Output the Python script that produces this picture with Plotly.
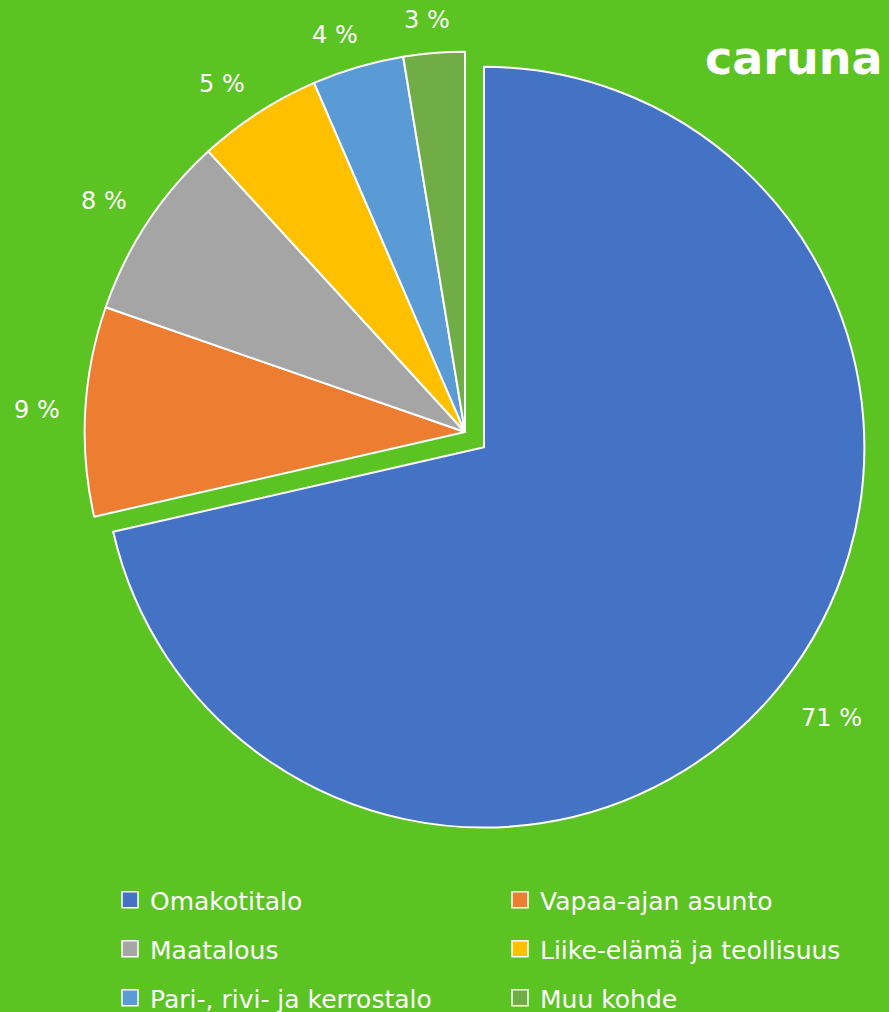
import math
import plotly.graph_objects as go

W, H = 889, 1012

categories = ["Omakotitalo", "Vapaa-ajan asunto", "Maatalous",
              "Liike-elämä ja teollisuus", "Pari-, rivi- ja kerrostalo", "Muu kohde"]
values = [71.5, 8.9, 7.9, 5.3, 3.9, 2.6]
colors = ["#4472C4", "#ED7D31", "#A5A5A5", "#FFC000", "#5B9BD5", "#70AD47"]
pulls = [0.064, 0, 0, 0, 0, 0]

BG = "#5BC322"
FONT = "DejaVu Sans"
dom_x = [0.0678, 0.9783]
dom_y = [0.1732, 0.973]

fig = go.Figure()
fig.add_trace(go.Pie(
    labels=categories, values=values,
    marker=dict(colors=colors, line=dict(color="white", width=2)),
    pull=pulls, sort=False, direction="clockwise", rotation=0,
    textinfo="none", showlegend=False, hoverinfo="skip",
    domain=dict(x=dom_x, y=dom_y),
))

# percentage labels placed outside the slices (Excel-style)
boxW = W * (dom_x[1] - dom_x[0])
boxH = H * (dom_y[1] - dom_y[0])
r = min(boxW, boxH) / (2 + 2 * max(pulls))
cx = W * (dom_x[0] + dom_x[1]) / 2
cy = H * (1 - dom_y[0]) - boxH / 2
total = sum(values)
cw = {"%": 0.95, " ": 0.318}
lab_size = 24
cum = 0.0
annotations = []
for v, p in zip(values, pulls):
    a0 = cum / total * 2 * math.pi
    cum += v
    a1 = cum / total * 2 * math.pi
    mid = (a0 + a1) / 2
    dx, dy = math.sin(mid), -math.cos(mid)
    px = cx + dx * p * r
    py = cy + dy * p * r
    text = f"{round(v / total * 100)} %"
    hw = sum(cw.get(ch, 0.636) for ch in text) * lab_size / 2
    hh = 16 if dy > 0 else 10
    g = 25
    tx = px + dx * (r + g) + hw * math.copysign(1, dx) * min(1, 2.5 * abs(dx))
    ty = py + dy * (r + g) + hh * math.copysign(1, dy) * min(1, 2.5 * abs(dy)) + 2
    annotations.append(dict(
        x=tx / W, y=1 - ty / H, xref="paper", yref="paper",
        text=text, showarrow=False, xanchor="center", yanchor="middle",
        font=dict(family=FONT, size=lab_size, color="white"),
    ))

annotations.append(dict(
    x=885 / W, y=1 - 58 / H, xref="paper", yref="paper", text="caruna",
    showarrow=False, xanchor="right", yanchor="middle",
    font=dict(family="DejaVu Sans", size=46, color="white", weight="bold"),
))

# legend: two columns, three rows
col_x = [110, 500]
row_y = [900, 949, 998]
legend_layout = {}
for i, (cat, col) in enumerate(zip(categories, colors)):
    key = "legend" if i == 0 else f"legend{i + 1}"
    fig.add_trace(go.Scatter(
        x=[None], y=[None], mode="markers", name=cat, legend=key,
        marker=dict(symbol="square", size=16, color=col,
                    line=dict(color="white", width=1.5)),
        showlegend=True, hoverinfo="skip",
    ))
    legend_layout[key] = dict(
        x=col_x[i % 2] / W, y=1 - row_y[i // 2] / H,
        xanchor="left", yanchor="middle", xref="paper", yref="paper",
        bgcolor="rgba(0,0,0,0)", borderwidth=0,
        font=dict(family=FONT, size=25, color="white"),
        itemclick=False, itemdoubleclick=False,
    )

fig.update_layout(
    width=W, height=H,
    margin=dict(l=0, r=0, t=0, b=0, autoexpand=False),
    paper_bgcolor=BG, plot_bgcolor=BG,
    xaxis=dict(visible=False), yaxis=dict(visible=False),
    annotations=annotations,
    **legend_layout,
)

fig.write_html("out.html", config={"displayModeBar": False},
               post_script="document.body.style.margin='0';")
